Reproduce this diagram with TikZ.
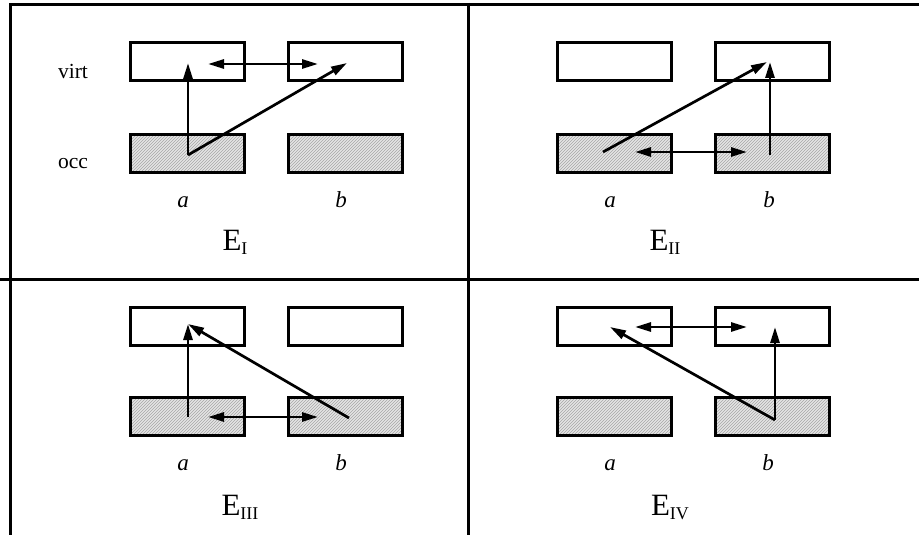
\documentclass[tikz,border=0pt]{standalone}
\usepackage{fontspec}
\setmainfont{Liberation Serif}
\usetikzlibrary{arrows.meta,patterns}
\tikzset{
  vbox/.style={draw=black,line width=3pt,minimum width=114pt,minimum height=38pt,inner sep=0pt,fill=white},
  obox/.style={draw=black,line width=3pt,minimum width=114pt,minimum height=38pt,inner sep=0pt,
    preaction={fill=gray!20},pattern=north east lines,pattern color=gray!70},
  arr/.style={line width=2.7pt,-{Triangle[length=16pt,width=9pt]}},
  darr/.style={line width=2.7pt,{Triangle[length=16pt,width=9pt]}-{Triangle[length=16pt,width=9pt]}},
  frame/.style={line width=3pt},
  lbl/.style={anchor=base,inner sep=0pt,font=\fontsize{21.5}{24}\selectfont},
  ilbl/.style={anchor=base,inner sep=0pt,font=\fontsize{23}{26}\selectfont\itshape},
  elbl/.style={anchor=base,inner sep=0pt}
}
\newcommand{\Elab}[1]{{\fontsize{31}{31}\selectfont E}\raisebox{-4pt}{\fontsize{18}{18}\selectfont #1}}
\begin{document}
\begin{tikzpicture}[x=1pt,y=-1pt]
\useasboundingbox (0,0) rectangle (919,535);
% frame
\draw[frame] (10,536) -- (10,5) -- (920,5);
\draw[frame] (468,3) -- (468,536);
\draw[frame] (0,279) -- (920,279);
% ---------- panel I ----------
\node[vbox] (Iva) at (187,62) {};
\node[vbox] (Ivb) at (345,62) {};
\node[obox] (Ioa) at (187,153) {};
\node[obox] (Iob) at (345,153) {};
\node[lbl] (virt) at (73,78) {virt};
\node[lbl] (occ) at (73,168) {occ};
\node[ilbl] (Ia) at (183,207) {a};
\node[ilbl] (Ib) at (341,207) {b};
\node[elbl] (EI) at (235,250) {\Elab{I}};
\coordinate (I1) at (188,155);
\coordinate (I2) at (188,63);
\coordinate (I3) at (347,63);
\coordinate (I4) at (208,64);
\coordinate (I5) at (318,64);
\draw[arr] (I1) -- (I2);
\draw[arr] (I1) -- (I3);
\draw[darr] (I4) -- (I5);
% ---------- panel II ----------
\node[vbox] (IIva) at (614,62) {};
\node[vbox] (IIvb) at (772,62) {};
\node[obox] (IIoa) at (614,153) {};
\node[obox] (IIob) at (772,153) {};
\node[ilbl] (IIa) at (610,207) {a};
\node[ilbl] (IIb) at (769,207) {b};
\node[elbl] (EII) at (665,250) {\Elab{II}};
\coordinate (II1) at (603,152);
\coordinate (II2) at (767,62);
\coordinate (II3) at (770,155);
\coordinate (II4) at (770,62);
\coordinate (II5) at (635,152);
\coordinate (II6) at (747,152);
\draw[arr] (II1) -- (II2);
\draw[arr] (II3) -- (II4);
\draw[darr] (II5) -- (II6);
% ---------- panel III ----------
\node[vbox] (IIIva) at (187,326.5) {};
\node[vbox] (IIIvb) at (345,326.5) {};
\node[obox] (IIIoa) at (187,416.5) {};
\node[obox] (IIIob) at (345,416.5) {};
\node[ilbl] (IIIa) at (183,470) {a};
\node[ilbl] (IIIb) at (341,470) {b};
\node[elbl] (EIII) at (240,515) {\Elab{III}};
\coordinate (III1) at (188,417);
\coordinate (III2) at (188,324);
\coordinate (III3) at (349,418);
\coordinate (III4) at (208,417);
\coordinate (III5) at (318,417);
\draw[arr] (III1) -- (III2);
\draw[arr] (III3) -- (III2);
\draw[darr] (III4) -- (III5);
% ---------- panel IV ----------
\node[vbox] (IVva) at (614,326.5) {};
\node[vbox] (IVvb) at (772,326.5) {};
\node[obox] (IVoa) at (614,416.5) {};
\node[obox] (IVob) at (772,416.5) {};
\node[ilbl] (IVa) at (610,470) {a};
\node[ilbl] (IVb) at (768,470) {b};
\node[elbl] (EIV) at (670,515) {\Elab{IV}};
\coordinate (IV1) at (635,327);
\coordinate (IV2) at (747,327);
\coordinate (IV3) at (775,420);
\coordinate (IV4) at (775,327);
\coordinate (IV5) at (610,327);
\draw[darr] (IV1) -- (IV2);
\draw[arr] (IV3) -- (IV4);
\draw[arr] (IV3) -- (IV5);
\end{tikzpicture}
\end{document}
